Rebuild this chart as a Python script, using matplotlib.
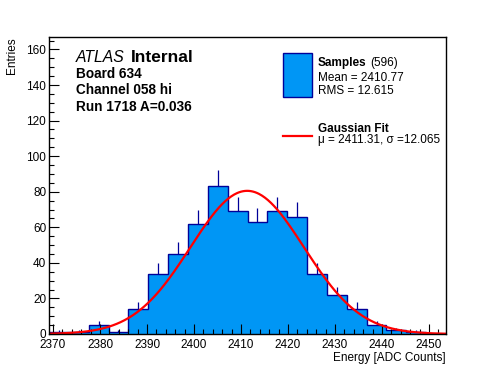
import matplotlib
matplotlib.use('Agg')
import matplotlib.pyplot as plt
import numpy as np

plt.rcParams['font.family'] = ['Liberation Sans', 'DejaVu Sans']

# histogram: 20 bins
x_lo, x_hi = 2369.15, 2453.6
counts = [1, 1, 5, 1, 14, 34, 45, 62, 83, 69, 63, 69, 66, 34, 22, 14, 5, 2, 1, 0]

# gaussian fit parameters
fit_mu = 2411.31
fit_sigma = 12.065
fit_amp = 80.5

W, H = 496, 372
fig = plt.figure(figsize=(W / 100, H / 100), dpi=100)
ax = fig.add_axes([49 / W, 1 - 334 / H, (446 - 49) / W, (334 - 37) / H])

def px(x, y):
    return x / W, 1 - y / H

edges = np.linspace(x_lo, x_hi, len(counts) + 1)
centers = 0.5 * (edges[:-1] + edges[1:])
counts = np.array(counts, dtype=float)

ax.stairs(counts, edges, fill=True, facecolor='#0096f5', edgecolor='none')
ax.stairs(counts, edges, fill=False, edgecolor='#000099', linewidth=1.0, baseline=0)
nz = counts > 0
ax.vlines(centers[nz], counts[nz], counts[nz] + np.sqrt(counts[nz]),
          color='#000099', linewidth=0.9)

xs = np.linspace(x_lo, x_hi, 400)
ax.plot(xs, fit_amp * np.exp(-0.5 * ((xs - fit_mu) / fit_sigma) ** 2), color='#ff0000', linewidth=1.6)

ax.set_xlim(x_lo, x_hi)
ax.set_ylim(0, 167)
ax.set_xticks(np.arange(2370, 2451, 10))
ax.set_xticks(np.arange(2370, 2454, 2), minor=True)
ax.set_yticks(np.arange(0, 161, 20))
ax.set_yticks(np.arange(0, 166, 5), minor=True)
ax.tick_params(which='both', direction='in', labelsize=8.5, top=False, right=False)
ax.tick_params(which='major', length=7, width=0.8)
ax.tick_params(which='minor', length=3.5, width=0.8)
ax.tick_params(axis='x', pad=3.5)
ax.tick_params(axis='y', pad=2)
for s in ax.spines.values():
    s.set_linewidth(1.0)

fig.text(*px(12, 37), 'Entries', rotation=90, ha='center', va='top', fontsize=8.5)
fig.text(*px(446, 361), 'Energy [ADC Counts]', ha='right', va='baseline', fontsize=8.5)

fig.text(*px(76, 62), 'ATLAS', style='italic', fontsize=11.3, va='baseline')
fig.text(*px(131, 62), 'Internal', weight='bold', fontsize=12.5, va='baseline')
fig.text(*px(76, 78), 'Board 634', weight='bold', fontsize=9.8, va='baseline')
fig.text(*px(76, 94.5), 'Channel 058 hi', weight='bold', fontsize=9.8, va='baseline')
fig.text(*px(76, 111), 'Run 1718 A=0.036', weight='bold', fontsize=9.8, va='baseline')

# legend
fig.patches.append(plt.Rectangle(px(283, 97), 29 / W, 44 / H, transform=fig.transFigure,
                                 facecolor='#0096f5', edgecolor='#000099', linewidth=1.0))
fig.text(*px(318, 66), 'Samples', weight='bold', fontsize=8.5, va='baseline')
fig.text(*px(370, 66), '(596)', fontsize=8.5, va='baseline')
fig.text(*px(318, 81), 'Mean = 2410.77', fontsize=8.5, va='baseline')
fig.text(*px(318, 93.5), 'RMS = 12.615', fontsize=8.5, va='baseline')
fig.lines.append(plt.Line2D([283 / W, 312 / W], [1 - 136 / H] * 2, transform=fig.transFigure,
                            color='#ff0000', linewidth=1.6))
fig.text(*px(318, 132), 'Gaussian Fit', weight='bold', fontsize=8.5, va='baseline')
fig.text(*px(318, 143), 'μ = 2411.31, σ =12.065', fontsize=8.5, va='baseline')

fig.savefig('out.png', dpi=100)
